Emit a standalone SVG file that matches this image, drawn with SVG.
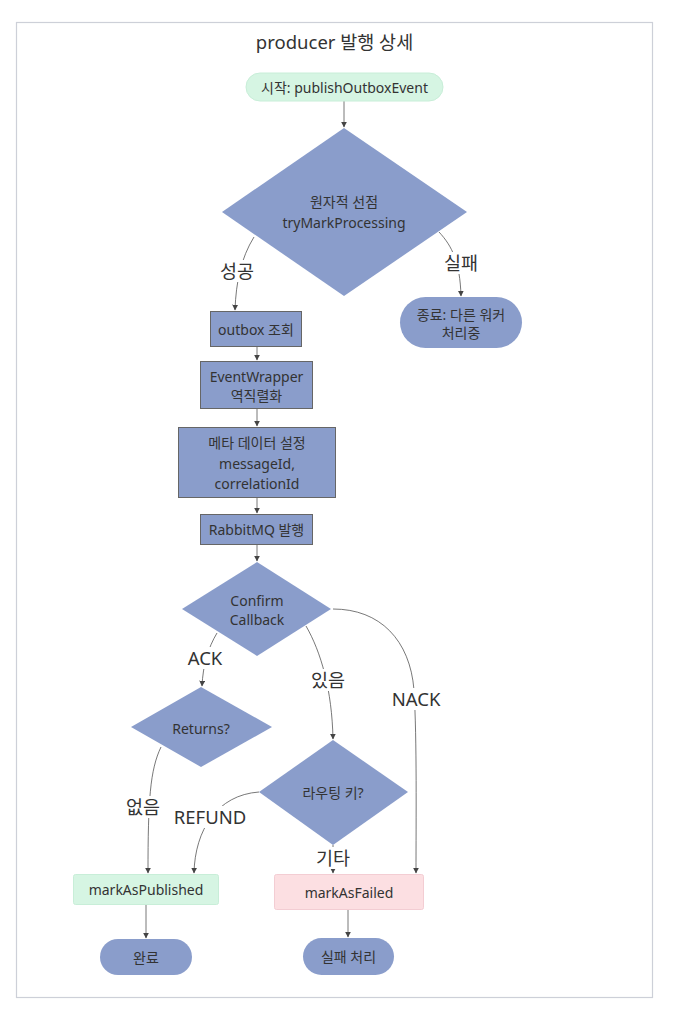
<svg xmlns="http://www.w3.org/2000/svg" width="684" height="1024" viewBox="0 0 684 1024">
<style>
text{font-family:"Noto Sans","Noto Sans CJK KR","Open Sans",sans-serif;fill:#333;text-anchor:middle;dominant-baseline:central}
.n{font-size:14px}
.lbl{font-size:18.5px}
.blue{fill:#8a9dcb}
.box{fill:#8a9dcb;stroke:#666;stroke-width:1}
.green{fill:#d6f5e3;stroke:#c8eed8;stroke-width:1}
.pink{fill:#fcdfe2;stroke:#f3cdd3;stroke-width:1}
.e{fill:none;stroke:#555;stroke-width:0.8;marker-end:url(#arr)}
.bg{fill:#fff}
</style>
<defs>
<marker id="arr" viewBox="0 0 10 10" refX="9" refY="5" markerWidth="6" markerHeight="6" markerUnits="userSpaceOnUse" orient="auto">
<path d="M0,0 L10,5 L0,10 z" fill="#444"/>
</marker>
</defs>
<rect x="16.5" y="22.5" width="636" height="975" fill="#fff" stroke="#cdd0d8" stroke-width="1.2"/>
<text x="334.5" y="41" style="font-size:18.5px">producer 발행 상세</text>

<g id="connectors">
<path class="e" d="M344,101 L344,127"/>
<path class="e" d="M254,237 C241,258 236,282 235,310"/>
<path class="e" d="M439,232 C452,246 460,262 461,296"/>
<path class="e" d="M257,347 L257,360"/>
<path class="e" d="M257,408 L257,426"/>
<path class="e" d="M257,497 L257,513"/>
<path class="e" d="M257,544 L257,561"/>
<path class="e" d="M217,633 C208,648 203,665 202,686"/>
<path class="e" d="M306,626 C321,652 332,690 333,739"/>
<path class="e" d="M333,609 C380,609 410,640 414,690 C417,740 416,820 416,873"/>
<path class="e" d="M161,747 C150,770 148,800 148,873"/>
<path class="e" d="M259,792 C217,795 195,830 194,873"/>
<path class="e" d="M333,845 L333,873"/>
<path class="e" d="M146,904 L146,938"/>
<path class="e" d="M348,909 L348,937"/>
<rect class="bg" x="218" y="260" width="38" height="22"/>
<text class="lbl" x="237" y="270">성공</text>
<rect class="bg" x="442" y="252" width="38" height="22"/>
<text class="lbl" x="461" y="262">실패</text>
<rect class="bg" x="182" y="647" width="46" height="22"/>
<text class="lbl" x="205" y="657">ACK</text>
<rect class="bg" x="309" y="669" width="38" height="22"/>
<text class="lbl" x="328" y="679">있음</text>
<rect class="bg" x="388" y="688" width="56" height="22"/>
<text class="lbl" x="416" y="698">NACK</text>
<rect class="bg" x="124" y="796" width="38" height="22"/>
<text class="lbl" x="143" y="806">없음</text>
<rect class="bg" x="170" y="806" width="80" height="22"/>
<text class="lbl" x="210" y="816">REFUND</text>
<rect class="bg" x="314" y="847" width="38" height="22"/>
<text class="lbl" x="333" y="857">기타</text>
</g>

<g id="start">
<rect class="green" x="246" y="73" width="197" height="28" rx="14"/>
<text class="n" x="344.5" y="87">시작: publishOutboxEvent</text>
</g>
<g id="atomic">
<polygon class="blue" points="344,128 467,212 344,296 222,212"/>
<text class="n" x="344" y="201">원자적 선점</text>
<text class="n" x="344" y="222">tryMarkProcessing</text>
</g>
<g id="end-other">
<rect class="blue" x="400" y="297" width="122" height="51" rx="25.5"/>
<text class="n" x="461" y="314">종료: 다른 워커</text>
<text class="n" x="461" y="332">처리중</text>
</g>
<g id="outbox">
<rect class="box" x="210.5" y="311.5" width="91" height="35"/>
<text class="n" x="256" y="329">outbox 조회</text>
</g>
<g id="deserialize">
<rect class="box" x="200.5" y="361.5" width="112" height="47"/>
<text class="n" x="256.5" y="376">EventWrapper</text>
<text class="n" x="256.5" y="395">역직렬화</text>
</g>
<g id="meta">
<rect class="box" x="178.5" y="427.5" width="157" height="70"/>
<text class="n" x="257" y="442">메타 데이터 설정</text>
<text class="n" x="257" y="463">messageId,</text>
<text class="n" x="257" y="483">correlationId</text>
</g>
<g id="publish">
<rect class="box" x="200.5" y="514.5" width="112" height="30"/>
<text class="n" x="256.5" y="529">RabbitMQ 발행</text>
</g>
<g id="confirm">
<polygon class="blue" points="257,562 331,609 257,656 182,609"/>
<text class="n" x="257" y="600">Confirm</text>
<text class="n" x="257" y="619">Callback</text>
</g>
<g id="returns">
<polygon class="blue" points="201,687 272,727 201,767 131,727"/>
<text class="n" x="201" y="728">Returns?</text>
</g>
<g id="routing">
<polygon class="blue" points="333,740 408,792 333,845 259,792"/>
<text class="n" x="333" y="792">라우팅 키?</text>
</g>
<g id="published">
<rect class="green" x="73.5" y="874.5" width="145" height="30" rx="2"/>
<text class="n" x="146" y="889">markAsPublished</text>
</g>
<g id="failed">
<rect class="pink" x="274.5" y="874.5" width="149" height="35" rx="2"/>
<text class="n" x="349" y="892">markAsFailed</text>
</g>
<g id="done">
<rect class="blue" x="100" y="939" width="92" height="36" rx="18"/>
<text class="n" x="146" y="957">완료</text>
</g>
<g id="fail-handle">
<rect class="blue" x="303" y="938" width="91" height="37" rx="18.5"/>
<text class="n" x="348.5" y="956">실패 처리</text>
</g>
</svg>
